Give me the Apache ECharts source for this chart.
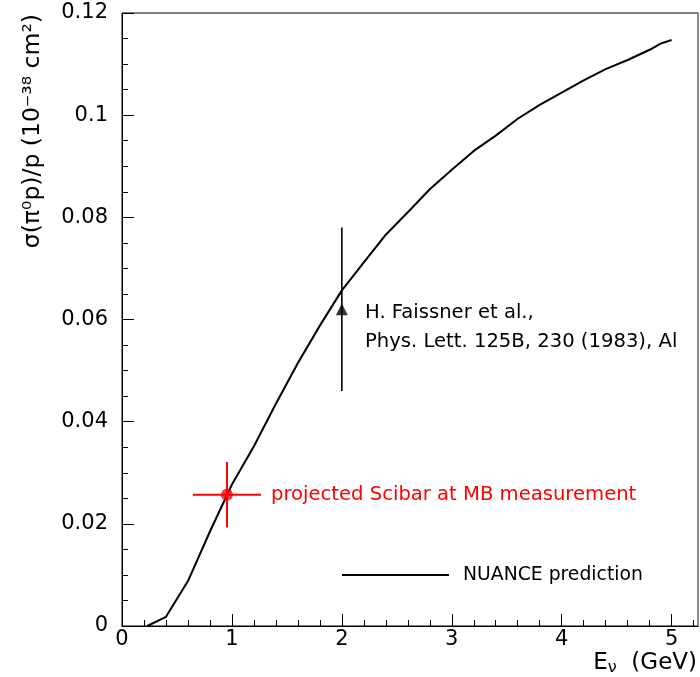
<!DOCTYPE html>
<html><head><meta charset="utf-8">
<script src="https://cdn.jsdelivr.net/npm/echarts@6/dist/echarts.min.js"></script>
<style>html,body{margin:0;padding:0;background:#fff}#c{width:700px;height:677px}</style>
</head><body><div id="c"></div>
<script>
// NUANCE prediction curve
const curveE     = [0.23, 0.40, 0.60, 0.80, 1.00, 1.20, 1.40, 1.60, 1.80, 2.00, 2.20, 2.40, 2.60, 2.80, 3.00, 3.20, 3.40, 3.60, 3.80, 4.00, 4.20, 4.40, 4.60, 4.80, 4.90, 5.00];
const curveSigma = [0.0, 0.0018, 0.0088, 0.0185, 0.0277, 0.0352, 0.0435, 0.0515, 0.0588, 0.0657, 0.0712, 0.0766, 0.0810, 0.0855, 0.0893, 0.0930, 0.0960, 0.0993, 0.1020, 0.1044, 0.1068, 0.1090, 0.1108, 0.1128, 0.1140, 0.1147];
// projected SciBar measurement [E, sigma, errE, errSigma]
const sciBar   = [0.955, 0.0257, 0.31, 0.0064];
// Faissner et al. point [E, sigma, errE, errSigma]
const faissner = [2.0, 0.062, 0, 0.016];
// tick labels
const xTicks = [0, 1, 2, 3, 4, 5];
const yTicks = [0, 0.02, 0.04, 0.06, 0.08, 0.1, 0.12];

const xMinor = []; for (let i = 1; i <= 26; i++) { if (i % 5) xMinor.push(+(i * 0.2).toFixed(2)); }
const yMinor = []; for (let i = 1; i < 24; i++) { if (i % 4) yMinor.push(+(i * 0.005).toFixed(3)); }

const FONT = '"DejaVu Sans"';
const XMAX = 5.24, YMAX = 0.12;

function errRender(color, lw) {
  return function (params, api) {
    const x = api.value(0), y = api.value(1), ex = api.value(2), ey = api.value(3);
    const ch = [];
    if (ex > 0) {
      const l = api.coord([x - ex, y]), r = api.coord([x + ex, y]);
      ch.push({type: 'line', shape: {x1: l[0], y1: l[1], x2: r[0], y2: r[1]}, style: {stroke: color, lineWidth: lw}});
    }
    if (ey > 0) {
      const t = api.coord([x, y + ey]), b = api.coord([x, y - ey]);
      ch.push({type: 'line', shape: {x1: t[0], y1: t[1], x2: b[0], y2: b[1]}, style: {stroke: color, lineWidth: lw}});
    }
    return {type: 'group', children: ch};
  };
}

const chart = echarts.init(document.getElementById('c'), null, {renderer: 'canvas'});
const baseX = {type: 'value', min: 0, max: XMAX, splitLine: {show: false}};
const baseY = {type: 'value', min: 0, max: YMAX, splitLine: {show: false}};
chart.setOption({
  animation: false,
  backgroundColor: '#fff',
  grid: {left: 122, right: 2, top: 13, bottom: 51, containLabel: false,
    show: true, borderColor: '#000', borderWidth: 1, backgroundColor: 'transparent'},
  xAxis: [
    Object.assign({}, baseX, {
      position: 'bottom',
      axisLine: {show: true, onZero: false, lineStyle: {color: '#000', width: 1}},
      axisTick: {show: true, inside: true, length: 12, customValues: xTicks, lineStyle: {color: '#000'}},
      axisLabel: {show: true, customValues: xTicks, margin: 3, fontSize: 21, fontFamily: FONT, color: '#000'}
    }),
    Object.assign({}, baseX, {
      position: 'bottom',
      axisLine: {show: false, onZero: false},
      axisTick: {show: true, inside: true, length: 6, customValues: xMinor, lineStyle: {color: '#000'}},
      axisLabel: {show: false}
    })
  ],
  yAxis: [
    Object.assign({}, baseY, {
      position: 'left',
      axisLine: {show: true, onZero: false, lineStyle: {color: '#000', width: 1}},
      axisTick: {show: true, inside: true, length: 12, customValues: yTicks, lineStyle: {color: '#000'}},
      axisLabel: {show: true, customValues: yTicks, margin: 14, fontSize: 21, fontFamily: FONT, color: '#000',
        formatter: v => String(+v.toFixed(3))}
    }),
    Object.assign({}, baseY, {
      position: 'left',
      axisLine: {show: false, onZero: false},
      axisTick: {show: true, inside: true, length: 6, customValues: yMinor, lineStyle: {color: '#000'}},
      axisLabel: {show: false}
    }),
    Object.assign({}, baseY, {
      position: 'right',
      axisLine: {show: true, onZero: false, lineStyle: {color: '#888', width: 2}},
      axisTick: {show: false}, axisLabel: {show: false}
    })
  ],
  series: [
    {
      name: 'NUANCE prediction', type: 'line', xAxisIndex: 0, yAxisIndex: 0,
      data: curveE.map((e, i) => [e, curveSigma[i]]),
      showSymbol: false, symbol: 'none', smooth: false,
      lineStyle: {color: '#000', width: 2}, z: 2
    },
    {
      type: 'custom', xAxisIndex: 0, yAxisIndex: 0,
      data: [sciBar], encode: {x: 0, y: 1},
      renderItem: errRender('#ff0000', 2), z: 3
    },
    {
      type: 'scatter', xAxisIndex: 0, yAxisIndex: 0,
      data: [[sciBar[0], sciBar[1]]], symbol: 'circle', symbolSize: 12,
      itemStyle: {color: '#ff0000'}, z: 4
    },
    {
      type: 'custom', xAxisIndex: 0, yAxisIndex: 0,
      data: [faissner], encode: {x: 0, y: 1},
      renderItem: errRender('#000', 1.6), z: 3
    },
    {
      type: 'scatter', xAxisIndex: 0, yAxisIndex: 0,
      data: [[faissner[0], faissner[1]]], symbol: 'triangle', symbolSize: [12, 12],
      itemStyle: {color: '#000'}, z: 4
    }
  ],
  graphic: [
    {type: 'text', x: 33, y: 14, rotation: Math.PI / 2,
      style: {text: 'σ(π⁰p)/p (10⁻³⁸ cm²)', font: '23.5px ' + FONT, fill: '#000', align: 'right', verticalAlign: 'middle'}},
    {type: 'text', x: 697, y: 663,
      style: {text: '{e|E}{s|ν}{e|  (GeV)}', align: 'right', verticalAlign: 'middle',
        rich: {e: {font: '23px ' + FONT, fill: '#000'}, s: {font: '16px ' + FONT, fill: '#000', padding: [10, 0, 0, 0]}}}},
    {type: 'text', x: 271, y: 495,
      style: {text: 'projected Scibar at MB measurement', font: '19.6px ' + FONT, fill: '#ff0000', verticalAlign: 'middle'}},
    {type: 'text', x: 365, y: 313,
      style: {text: 'H. Faissner et al.,', font: '19.6px ' + FONT, fill: '#000', verticalAlign: 'middle'}},
    {type: 'text', x: 365, y: 342,
      style: {text: 'Phys. Lett. 125B, 230 (1983), Al', font: '19.6px ' + FONT, fill: '#000', verticalAlign: 'middle'}},
    {type: 'line', shape: {x1: 342, y1: 575, x2: 449, y2: 575}, style: {stroke: '#000', lineWidth: 2}},
    {type: 'text', x: 463, y: 575,
      style: {text: 'NUANCE prediction', font: '18.8px ' + FONT, fill: '#000', verticalAlign: 'middle'}}
  ]
});
</script>
</body></html>
